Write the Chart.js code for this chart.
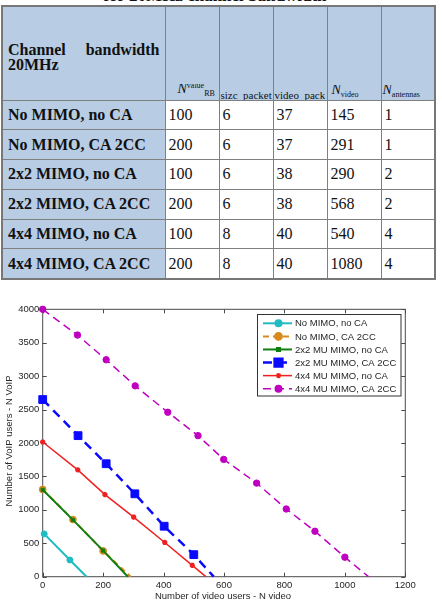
<!DOCTYPE html>
<html>
<head>
<meta charset="utf-8">
<script src="https://cdn.jsdelivr.net/npm/chart.js@4.4.1/dist/chart.umd.min.js"></script>
<style>
    body { margin: 0; width: 442px; height: 610px; background: #fff; position: relative; overflow: hidden; }
    .caption { position: absolute; top: -13.5px; left: 0; width: 430px; text-align: center;
        font: bold 17px/17px "Liberation Serif", serif; color: #111; }
    table { position: absolute; left: 1px; top: 5px; width: 435px; border-collapse: collapse; table-layout: fixed;
        font-family: "Liberation Serif", serif; color: #111; border: 2px solid #777; }
    td { border: 1px solid #808080; padding: 0 3px; font-size: 16px; }
    td.lab { background: #b8cce4; font-weight: bold; padding-left: 5px; white-space: nowrap; }
    tr.head { height: 94px; }
    tr.row { height: 29.8px; }
    tr.head td { background: #b8cce4; vertical-align: bottom; font-size: 11px; line-height: 10px; padding: 0; }
    tr.head td.first { vertical-align: middle; font-size: 16px; line-height: 15px; font-weight: bold;
        text-align: justify; padding: 8px 5px 0 5px; }
    .small { height: 13px; overflow: hidden; white-space: nowrap; padding: 0 1px; }
    .N { font-style: italic; font-size: 14px; }
    sub, sup { font-size: 8px; line-height: 0; }
    canvas { position: absolute; left: 0; top: 290px; }
</style>
</head>
<body>
<div class="caption">for 20MHz channel bandwidth</div>
<table id="paramTable">
    <colgroup>
        <col style="width:163px"><col style="width:54px"><col style="width:54px">
        <col style="width:54px"><col style="width:54px"><col style="width:54px">
    </colgroup>
    <tr class="head">
        <td class="first">Channel bandwidth 20MHz</td>
        <td><div class="small" style="padding-left:12px;height:16px"><span class="N">N</span><sup>value</sup><sub>RB</sub></div></td>
        <td><div class="small" style="padding-top:3px;height:10px">sizc_packet_voip</div></td>
        <td><div class="small" style="padding-top:3px;height:10px;white-space:normal">video_pack<br>et</div></td>
        <td><div class="small" style="padding-left:4px;height:15px"><span class="N">N</span><sub>video</sub></div></td>
        <td><div class="small" style="height:15px"><span class="N">N</span><sub>antennas</sub></div></td>
    </tr>
</table>
<canvas id="graphCanvas" width="442" height="320"></canvas>
<script>
// Taula de parametres
const rowLabels = ['No MIMO, no CA', 'No MIMO, CA 2CC', '2x2 MIMO, no CA', '2x2 MIMO, CA 2CC', '4x4 MIMO, no CA', '4x4 MIMO, CA 2CC'];
const nRbValue = [100, 200, 100, 200, 100, 200];
const sizePacketVoip = [6, 6, 6, 6, 8, 8];
const videoPacket = [37, 37, 38, 38, 40, 40];
const nVideo = [145, 291, 290, 568, 540, 1080];
const nAntennas = [1, 1, 2, 2, 4, 4];

// Dades del grafic (N video, N VoIP)
const legendLabels = ['No MIMO, no CA', 'No MIMO, CA 2CC', '2x2 MU MIMO, no CA', '2x2 MU MIMO, CA 2CC', '4x4 MU MIMO, no CA', '4x4 MU MIMO, CA 2CC'];
const noMimoNoCaX = [5, 90, 145];
const noMimoNoCaY = [640, 250, 0];
const noMimoCaX = [0, 100, 200, 291];
const noMimoCaY = [1305, 855, 385, 0];
const mimo2NoCaX = [0, 100, 200, 282];
const mimo2NoCaY = [1300, 850, 390, 0];
const mimo2CaX = [0, 117, 210, 305, 402, 500, 566];
const mimo2CaY = [2650, 2110, 1690, 1240, 755, 330, 0];
const mimo4NoCaX = [0, 116, 206, 301, 404, 495, 540];
const mimo4NoCaY = [2015, 1598, 1228, 892, 512, 170, 0];
const mimo4CaX = [0, 115, 210, 306, 414, 514, 599, 708, 806, 901, 1000, 1078];
const mimo4CaY = [4000, 3615, 3245, 2855, 2460, 2110, 1755, 1400, 1013, 680, 292, 0];

const xTitle = 'Number of video users - N video';
const yTitle = 'Number of VoIP users - N VoIP';
const xTicksMax = 1200;
const yTicksMax = 4000;

const tableEl = document.getElementById('paramTable');
rowLabels.forEach((label, i) => {
    const tr = document.createElement('tr');
    tr.className = 'row';
    tr.innerHTML = `<td class="lab">${label}</td><td>${nRbValue[i]}</td><td>${sizePacketVoip[i]}</td>` +
        `<td>${videoPacket[i]}</td><td>${nVideo[i]}</td><td>${nAntennas[i]}</td>`;
    tableEl.appendChild(tr);
});

function toPoints(xs, ys) {
    return xs.map((x, i) => ({ x: x, y: ys[i] }));
}

// l'ultim punt (a y = 0) no porta marcador
function radii(xs, r) {
    return xs.map((x, i) => (i === xs.length - 1 ? 0 : r));
}

const styles = [
    { color: '#1fbcc4', dash: [], width: 2, point: 'circle', r: 3 },
    { color: '#d98a1c', dash: [6, 4], width: 2, point: 'circle', r: 3.4 },
    { color: '#0f7f0f', dash: [], width: 2, point: 'rect', r: 2.2 },
    { color: '#0a0aff', dash: [9, 6], width: 2.5, point: 'rect', r: 5.5 },
    { color: '#f02020', dash: [], width: 1.5, point: 'star', r: 2.6 },
    { color: '#c000c0', dash: [8, 5], width: 1.5, point: 'circle', r: 3.2 }
];
const seriesX = [noMimoNoCaX, noMimoCaX, mimo2NoCaX, mimo2CaX, mimo4NoCaX, mimo4CaX];
const seriesY = [noMimoNoCaY, noMimoCaY, mimo2NoCaY, mimo2CaY, mimo4NoCaY, mimo4CaY];

const datasets = legendLabels.map((label, i) => ({
    label: label,
    data: toPoints(seriesX[i], seriesY[i]),
    borderColor: styles[i].color,
    backgroundColor: styles[i].color,
    borderWidth: styles[i].width,
    borderDash: styles[i].dash,
    pointStyle: styles[i].point,
    pointRadius: radii(seriesX[i], styles[i].r),
    pointBorderWidth: styles[i].point === 'star' ? 1.8 : 1,
    tension: 0,
    clip: false,
    order: legendLabels.length - i
}));

const fontFamily = '"Liberation Sans", Arial, sans-serif';
const axisFont = { family: fontFamily, size: 9.5 };
const textColor = '#262626';

// Marc, marques cap a dins i titols dels eixos (estil MATLAB)
const framePlugin = {
    id: 'frame',
    beforeDatasetsDraw(chart) {
        const { ctx, chartArea: a, scales } = chart;
        ctx.save();
        ctx.strokeStyle = '#4a4a4a';
        ctx.lineWidth = 1;
        ctx.strokeRect(a.left, a.top, a.right - a.left, a.bottom - a.top);
        const tl = 4;
        ctx.beginPath();
        scales.x.ticks.forEach(t => {
            const px = Math.round(scales.x.getPixelForValue(t.value)) + 0.5;
            ctx.moveTo(px, a.bottom); ctx.lineTo(px, a.bottom - tl);
            ctx.moveTo(px, a.top); ctx.lineTo(px, a.top + tl);
        });
        scales.y.ticks.forEach(t => {
            const py = Math.round(scales.y.getPixelForValue(t.value)) + 0.5;
            ctx.moveTo(a.left, py); ctx.lineTo(a.left + tl, py);
            ctx.moveTo(a.right, py); ctx.lineTo(a.right - tl, py);
        });
        ctx.stroke();

        ctx.fillStyle = textColor;
        ctx.font = '9.5px ' + fontFamily;
        ctx.textAlign = 'center';
        ctx.textBaseline = 'middle';
        ctx.fillText(xTitle, 223, 306.5);
        ctx.translate(9.5, 151);
        ctx.rotate(-Math.PI / 2);
        ctx.fillText(yTitle, 0, 0);
        ctx.restore();
    }
};

// Llegenda dins l'area del grafic
const legendBoxPlugin = {
    id: 'legendBox',
    afterDraw(chart) {
        const { ctx } = chart;
        const box = { x: 257.5, y: 24.5, w: 143.5, h: 81.5 };
        ctx.save();
        ctx.fillStyle = '#fff';
        ctx.fillRect(box.x, box.y, box.w, box.h);
        ctx.strokeStyle = '#333';
        ctx.lineWidth = 1;
        ctx.strokeRect(box.x, box.y, box.w, box.h);
        chart.data.datasets.forEach((ds, i) => {
            const y = 33.3 + i * 13.08;
            ctx.strokeStyle = ds.borderColor;
            ctx.lineWidth = ds.borderWidth;
            ctx.setLineDash(ds.borderDash);
            ctx.beginPath();
            ctx.moveTo(263, y);
            ctx.lineTo(292, y);
            ctx.stroke();
            ctx.setLineDash([]);
            ctx.fillStyle = ds.backgroundColor;
            Chart.helpers.drawPoint(ctx, {
                pointStyle: ds.pointStyle,
                radius: styles[i].r,
                borderWidth: ds.pointBorderWidth,
                rotation: 0
            }, 278.5, y);
            ctx.fillStyle = textColor;
            ctx.font = '9.5px ' + fontFamily;
            ctx.textBaseline = 'middle';
            ctx.fillText(ds.label, 295, y + 0.5);
        });
        ctx.restore();
    }
};

const ctx = document.getElementById('graphCanvas').getContext('2d');
const graphChart = new Chart(ctx, {
    type: 'line',
    data: { datasets: datasets },
    options: {
        responsive: false,
        animation: false,
        layout: { padding: { left: 0, right: 36.7, top: 19.3, bottom: 0 } },
        plugins: {
            legend: { display: false },
            tooltip: { enabled: false }
        },
        scales: {
            x: {
                type: 'linear',
                min: 0,
                max: xTicksMax,
                grid: { display: false, drawTicks: false },
                border: { display: false },
                ticks: { stepSize: 200, padding: 3, font: axisFont, color: textColor, maxRotation: 0,
                    callback: (v) => String(v) },
                afterFit: (scale) => { scale.height = 33.3; }
            },
            y: {
                type: 'linear',
                min: 0,
                max: yTicksMax,
                grid: { display: false, drawTicks: false },
                border: { display: false },
                ticks: { stepSize: 500, padding: 3.4, font: axisFont, color: textColor,
                    callback: (v) => String(v) },
                afterFit: (scale) => { scale.width = 42.7; }
            }
        }
    },
    plugins: [framePlugin, legendBoxPlugin]
});
</script>
</body>
</html>
